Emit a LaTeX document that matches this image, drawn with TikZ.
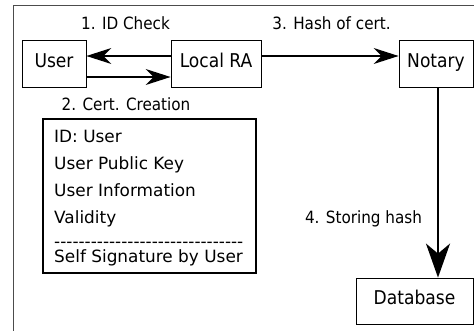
\documentclass[tikz,border=0pt]{standalone}
\usepackage{fontspec}
\setmainfont{DejaVu Sans}
\newfontfamily\condfont{DejaVu Sans Condensed}
\usetikzlibrary{arrows.meta}

\tikzset{
  party/.style={draw, line width=0.8pt, inner sep=0pt, minimum height=47pt,
    font=\condfont\fontsize{19}{23}\selectfont, text height=0.73em, text depth=0pt},
  msg/.style={anchor=base, inner sep=0pt, font=\condfont\fontsize{16.9}{20}\selectfont},
  certline/.style={anchor=base west, inner sep=0pt, font=\fontsize{16.9}{20}\selectfont},
  flow/.style={line width=1.4pt, -{Stealth[length=25pt,width=16pt,inset=8pt]}},
}
\newcommand{\hyphenrow}[1]{\foreach\k in {1,...,#1}{-\kern0pt}}

\begin{document}
\begin{tikzpicture}[x=1pt,y=-1pt]
    \useasboundingbox (0,0) rectangle (474,330);
    % frame, cut by the page on the right and at the bottom
    \draw[black!70, line width=1pt] (13,340) -- (13,5) -- (484,5);

    \node[party, minimum width=64pt] (user) at (54,63.5) {User};
    \node[party, minimum width=90pt] (ra) at (216,63.5) {Local RA};
    \node[party, minimum width=74pt] (notary) at (436,63.5) {Notary};
    \node[party, minimum width=117pt, minimum height=46pt] (db) at (414.5,301) {Database};

    \draw[flow] ([yshift=7.5pt]ra.west) -- ([yshift=7.5pt]user.east);
    \draw[flow] ([yshift=-13.5pt]user.east) -- ([yshift=-13.5pt]ra.west);
    \draw[flow] ([yshift=7.5pt]ra.east) -- ([yshift=7.5pt]notary.west);
    \draw[line width=2.4pt, -{Stealth[length=34pt,width=24pt,inset=10pt]}]
      ([xshift=2pt]notary.south) -- ([xshift=2pt]notary.south |- db.north);

    \node[msg] (idcheck) at (125.5,29) {1. ID Check};
    \node[msg] (creation) at (126,110) {2. Cert. Creation};
    \node[msg] (hash) at (331.5,29) {3. Hash of cert.};
    \node[msg] (storing) at (363.5,223) {4. Storing hash};

    % certificate
    \draw[line width=2.5pt] (43,119) rectangle (256,273);
    \node[certline] (c1) at (54,142) {ID: User};
    \node[certline] (c2) at (54,169) {User Public Key};
    \node[certline] (c3) at (54,196) {User Information};
    \node[certline] (c4) at (54,223) {Validity};
    \node[certline] (c5) at (54,247.5) {\hyphenrow{31}};
    \node[certline] (c6) at (54,262) {Self Signature by User};
  \end{tikzpicture}
\end{document}
